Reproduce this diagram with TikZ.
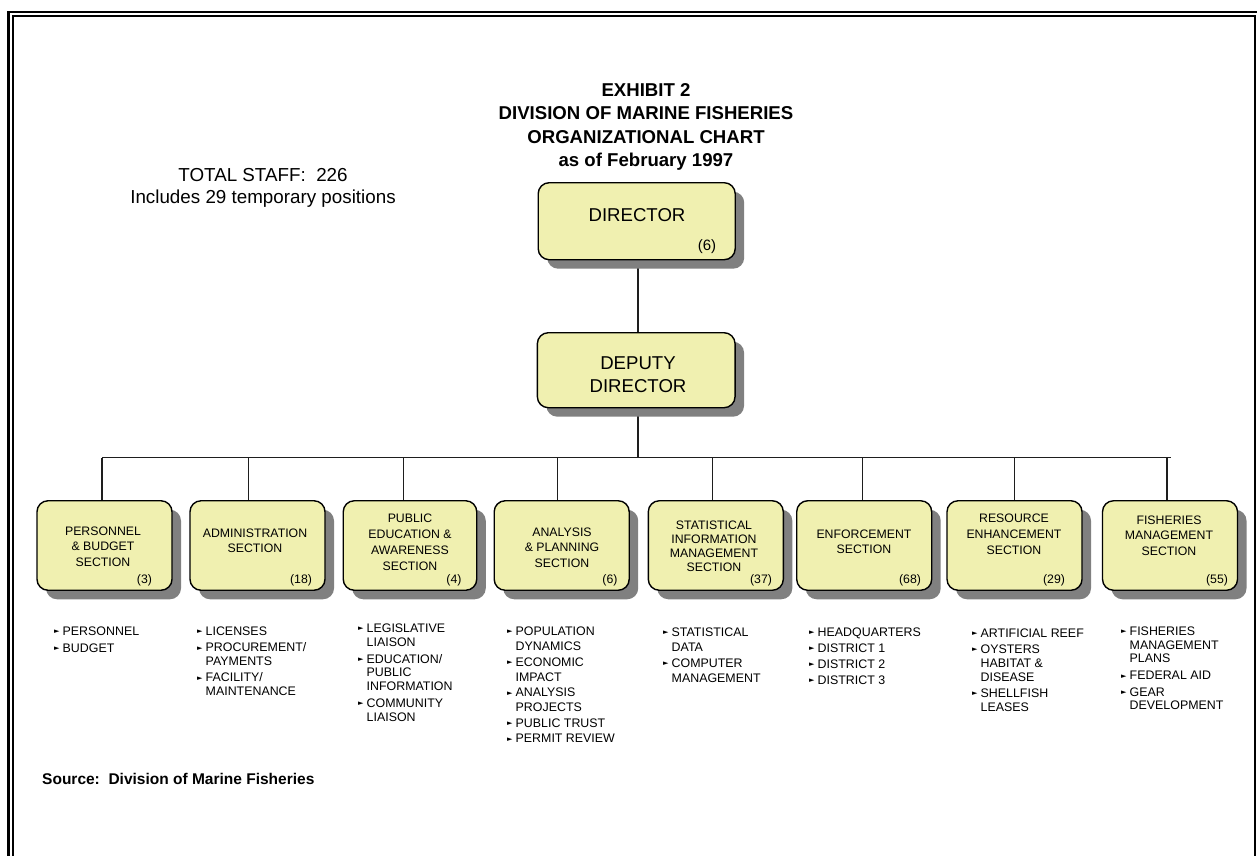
\documentclass[tikz,border=0pt]{standalone}
\usepackage{fontspec}
\setmainfont{Liberation Sans}
\newfontfamily\symfont{DejaVu Sans}
\usetikzlibrary{shadows}
\definecolor{boxfill}{RGB}{240,240,176}
\definecolor{shadowgray}{RGB}{128,128,128}
\definecolor{linecol}{RGB}{30,30,30}
\newcommand{\bul}{\makebox[8.5pt][l]{\raisebox{1.5pt}{\symfont\fontsize{7}{7}\selectfont ►}}}
\newcommand{\ind}{\hspace*{8.5pt}}
\newcommand{\cstack}[2]{{\fontsize{12.3}{#1}\selectfont\begin{tabular}[t]{@{}c@{}}#2\end{tabular}}}
\newcommand{\lstack}[2]{{\fontsize{12.4}{#1}\selectfont\begin{tabular}[t]{@{}l@{}}#2\end{tabular}}}
\begin{document}
\begin{tikzpicture}[x=1pt,y=-1pt,
  orgbox/.style={draw=black, line width=1.4pt, fill=boxfill, rounded corners=11pt, inner sep=0pt,
    general shadow={fill=shadowgray, shadow xshift=9pt, shadow yshift=-9pt}},
  secbox/.style={orgbox, minimum width=135pt, minimum height=89.5pt},
  topbox/.style={orgbox, minimum width=197pt, minimum height=75pt},
  conn/.style={draw=linecol, line width=1.3pt},
  lbl/.style={inner sep=0pt, anchor=base},
  lst/.style={inner sep=0pt, anchor=base west},
  num/.style={inner sep=0pt, anchor=base, font=\fontsize{12.3}{14}\selectfont},
]
\useasboundingbox (0,0) rectangle (1257,855);
\clip (0,0) rectangle (1257,855);
\fill[white] (0,0) rectangle (1257,855);

% frame
\draw[line width=2.6pt] (8.7,12) rectangle (1275,880);
\draw[line width=2.2pt] (12.8,15.8) rectangle (1255.3,870);

% title
\node[lbl, font=\bfseries\fontsize{18.6}{23.5}\selectfont] (title) at (646,96)
  {\begin{tabular}[t]{@{}c@{}}EXHIBIT 2\\DIVISION OF MARINE FISHERIES\\ORGANIZATIONAL CHART\\as of February 1997\end{tabular}};
\node[lbl, font=\fontsize{18.8}{22.5}\selectfont] (staff) at (263,181.2)
  {\begin{tabular}[t]{@{}c@{}}TOTAL STAFF:\ \ 226\\Includes 29 temporary positions\end{tabular}};
\node[inner sep=0pt, anchor=base west, font=\bfseries\fontsize{15.5}{18}\selectfont] (source) at (42,784)
  {Source:\ \ Division of Marine Fisheries};

% coordinates for connectors
\coordinate (hub) at (638,457.5);
\coordinate (barL) at (102,457.5);
\coordinate (barR) at (1171,457.5);
\coordinate (d1) at (102,457.5);
\coordinate (d2) at (248.3,457.5);
\coordinate (d3) at (403.3,457.5);
\coordinate (d4) at (557.3,457.5);
\coordinate (d5) at (712.3,457.5);
\coordinate (d6) at (862.7,457.5);
\coordinate (d7) at (1014.3,457.5);
\coordinate (d8) at (1167,457.5);

\path (636.7,221.2) coordinate (dirc);
\path (636.2,370.2) coordinate (depc);

\draw[conn] (dirc -| hub) -- (depc -| hub);
\draw[conn] (depc -| hub) -- (hub);
\draw[conn] (barL) -- (barR);
\foreach \i in {1,...,8} {\draw[conn] (d\i) -- ++(0,44);}

\node[topbox, minimum height=77pt] (dir) at (dirc) {};
\node[topbox, minimum width=197.7pt] (dep) at (depc) {};

\node[lbl, font=\fontsize{18.6}{23}\selectfont] (dirt) at (637,221) {DIRECTOR};
\node[lbl, font=\fontsize{15}{18}\selectfont] (dirn) at (707,250) {(6)};
\node[lbl, font=\fontsize{18.6}{23.3}\selectfont] (dept) at (638,369.4)
  {\begin{tabular}[t]{@{}c@{}}DEPUTY\\DIRECTOR\end{tabular}};

% section boxes
\node[secbox] (s1) at (104.5,545.5) {};
\node[secbox] (s2) at (257.5,545.5) {};
\node[secbox, minimum width=133.5pt] (s3) at (410,545.5) {};
\node[secbox] (s4) at (561.7,545.5) {};
\node[secbox] (s5) at (715.8,545.5) {};
\node[secbox] (s6) at (864.2,545.5) {};
\node[secbox] (s7) at (1014.5,545.5) {};
\node[secbox] (s8) at (1170,545.5) {};

\node[lbl] (s1t) at (103,535.4) {\cstack{15.5}{PERSONNEL\\\& BUDGET\\SECTION}};
\node[lbl] (s2t) at (255,537.1) {\cstack{15.3}{ADMINISTRATION\\SECTION}};
\node[lbl] (s3t) at (410,522.7) {\cstack{15.9}{PUBLIC\\EDUCATION \&\\AWARENESS\\SECTION}};
\node[lbl] (s4t) at (562,536.1) {\cstack{15.7}{ANALYSIS\\\& PLANNING\\SECTION}};
\node[lbl] (s5t) at (714,529.4) {\cstack{14}{STATISTICAL\\INFORMATION\\MANAGEMENT\\SECTION}};
\node[lbl] (s6t) at (864,538.4) {\cstack{15}{ENFORCEMENT\\SECTION}};
\node[lbl] (s7t) at (1014,522.4) {\cstack{16}{RESOURCE\\ENHANCEMENT\\SECTION}};
\node[lbl] (s8t) at (1169,524.4) {\cstack{15.5}{FISHERIES\\MANAGEMENT\\SECTION}};

\node[num] (s1n) at (144.5,583.4) {(3)};
\node[num] (s2n) at (301,583.4) {(18)};
\node[num] (s3n) at (454,583.4) {(4)};
\node[num] (s4n) at (610,583.4) {(6)};
\node[num] (s5n) at (761,583.4) {(37)};
\node[num] (s6n) at (910,583.4) {(68)};
\node[num] (s7n) at (1054,583.4) {(29)};
\node[num] (s8n) at (1217,583.4) {(55)};

% lists
\node[lst] (l1) at (54,635.4) {\lstack{16.7}{\bul PERSONNEL\\\bul BUDGET}};
\node[lst] (l2) at (197,635.4) {\lstack{13.5}{\bul LICENSES\\[3pt]\bul PROCUREMENT/\\\ind PAYMENTS\\[3pt]\bul FACILITY/\\\ind MAINTENANCE}};
\node[lst] (l3) at (358,632.4) {\lstack{13.8}{\bul LEGISLATIVE\\\ind LIAISON\\[3pt]\bul EDUCATION/\\\ind PUBLIC\\\ind INFORMATION\\[3pt]\bul COMMUNITY\\\ind LIAISON}};
\node[lst] (l4) at (507,635.4) {\lstack{15.3}{\bul POPULATION\\\ind DYNAMICS\\\bul ECONOMIC\\\ind IMPACT\\\bul ANALYSIS\\\ind PROJECTS\\\bul PUBLIC TRUST\\\bul PERMIT REVIEW}};
\node[lst] (l5) at (663,636.4) {\lstack{15}{\bul STATISTICAL\\\ind DATA\\[1pt]\bul COMPUTER\\\ind MANAGEMENT}};
\node[lst] (l6) at (809,636.4) {\lstack{16}{\bul HEADQUARTERS\\\bul DISTRICT 1\\\bul DISTRICT 2\\\bul DISTRICT 3}};
\node[lst] (l7) at (972,637.4) {\lstack{14.2}{\bul ARTIFICIAL REEF\\[1.5pt]\bul OYSTERS\\\ind HABITAT \&\\\ind DISEASE\\[1.5pt]\bul SHELLFISH\\\ind LEASES}};
\node[lst] (l8) at (1121,635.4) {\lstack{13.7}{\bul FISHERIES\\\ind MANAGEMENT\\\ind PLANS\\[3pt]\bul FEDERAL AID\\[3pt]\bul GEAR\\\ind DEVELOPMENT}};
\end{tikzpicture}
\end{document}
